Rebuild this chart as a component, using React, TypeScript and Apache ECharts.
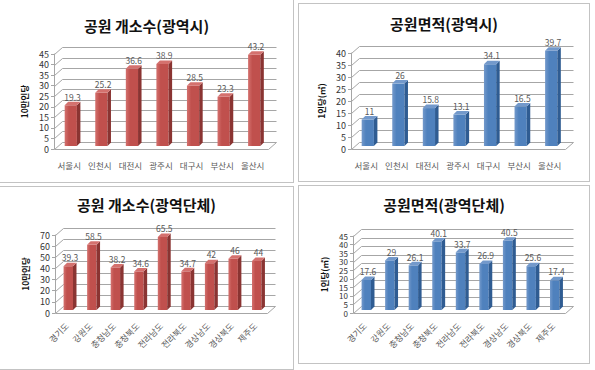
import React, { useEffect, useRef } from 'react';
import * as echarts from 'echarts';

// Categories
const cityCats = ['서울시', '인천시', '대전시', '광주시', '대구시', '부산시', '울산시'];
const provCats = ['경기도', '강원도', '충청남도', '충청북도', '전라남도', '전라북도', '경상남도', '경상북도', '제주도'];

// Series values
const cityParkCount = [19.3, 25.2, 36.6, 38.9, 28.5, 23.3, 43.2];
const cityParkArea = [11, 26, 15.8, 13.1, 34.1, 16.5, 39.7];
const provParkCount = [39.3, 58.5, 38.2, 34.6, 65.5, 34.7, 42, 46, 44];
const provParkArea = [17.6, 29, 26.1, 40.1, 33.7, 26.9, 40.5, 25.6, 17.4];

// Value-axis ticks
const cityCountTicks = [0, 5, 10, 15, 20, 25, 30, 35, 40, 45];
const cityAreaTicks = [0, 5, 10, 15, 20, 25, 30, 35, 40];
const provCountTicks = [0, 10, 20, 30, 40, 50, 60, 70];
const provAreaTicks = [0, 5, 10, 15, 20, 25, 30, 35, 40, 45];

const FONT = "'Noto Sans CJK KR', 'Noto Sans', sans-serif";
const GRID_LINE = '#a6a6a6';
const DEPTH_X = 8;
const DEPTH_Y = -7;
const BAR_SHIFT_X = 1.5;
const BAR_SHIFT_Y = -3;
const BAR_DEPTH = 3.5;

const RED = { front: '#C0504D', side: '#8A3432', top: '#D4716E' };
const BLUE = { front: '#4F81BD', side: '#2F5C92', top: '#7399CB' };

type Palette = typeof RED;

interface PanelSpec {
  title: string;
  axisName: string;
  cats: string[];
  values: number[];
  ticks: number[];
  palette: Palette;
  rotateLabels: boolean;
  tickFont: number;
  grid: { left: number; top: number; width: number; height: number };
  titleTop: number;
  box: { left: number; top: number; width: number; height: number };
}

function buildOption(p: PanelSpec): echarts.EChartsCoreOption {
  const max = p.ticks[p.ticks.length - 1];
  const step = p.ticks[1] - p.ticks[0];
  const line = (x1: number, y1: number, x2: number, y2: number) => ({
    type: 'line',
    shape: { x1, y1, x2, y2 },
    style: { stroke: GRID_LINE, lineWidth: 1 },
    silent: true,
  });
  return {
    animation: false,
    textStyle: { fontFamily: FONT },
    title: {
      text: p.title,
      left: 'center',
      top: p.titleTop,
      textStyle: { fontFamily: FONT, fontSize: 15, fontWeight: 'bold', color: '#111' },
    },
    grid: { ...p.grid, containLabel: false },
    xAxis: {
      type: 'category',
      data: p.cats,
      axisLine: { show: false },
      axisTick: { show: false },
      splitLine: { show: false },
      axisLabel: {
        color: '#595959',
        fontSize: 8.5,
        lineHeight: 9,
        fontFamily: FONT,
        interval: 0,
        rotate: p.rotateLabels ? 45 : 0,
        margin: 11,
      },
    },
    yAxis: {
      type: 'value',
      min: 0,
      max,
      interval: step,
      name: p.axisName,
      nameLocation: 'middle',
      nameRotate: 90,
      nameGap: 25,
      nameTextStyle: { fontFamily: FONT, fontSize: 8.5, fontWeight: 'bold', color: '#111' },
      axisLine: { show: true, lineStyle: { color: GRID_LINE } },
      axisTick: { show: true, length: 3, lineStyle: { color: GRID_LINE } },
      splitLine: { show: false },
      axisLabel: {
        color: '#333',
        fontSize: p.tickFont,
        lineHeight: p.tickFont,
        fontFamily: FONT,
        margin: 5,
      },
    },
    series: [
      {
        // Side wall, back wall and floor of the 3-D plot box
        type: 'custom',
        z: 1,
        silent: true,
        data: p.ticks.map((t) => [0, t]),
        encode: { x: 0, y: 1 },
        renderItem: (params: any, api: any) => {
          const cs = params.coordSys;
          const v = api.value(1);
          const y = Math.round(api.coord([0, v])[1]) + 0.5;
          const x0 = Math.round(cs.x) + 0.5;
          const x1 = Math.round(cs.x + cs.width) + 0.5;
          const children: any[] = [
            line(x0, y, x0 + DEPTH_X, y + DEPTH_Y),
            line(x0 + DEPTH_X, y + DEPTH_Y, x1 + DEPTH_X, y + DEPTH_Y),
          ];
          if (v === 0) {
            children.push(line(x0, y, x1, y));
            children.push(line(x1, y, x1 + DEPTH_X, y + DEPTH_Y));
          }
          return { type: 'group', children };
        },
      },
      {
        // 3-D columns with value labels
        type: 'custom',
        z: 3,
        data: p.values.map((v, i) => [i, v]),
        encode: { x: 0, y: 1 },
        renderItem: (params: any, api: any) => {
          const i = api.value(0);
          const v = api.value(1);
          const base = api.coord([i, 0]);
          const top = api.coord([i, v]);
          const band = api.size([1, 0])[0];
          const w = band * 0.4;
          const d = BAR_DEPTH;
          const x = base[0] - w / 2 + BAR_SHIFT_X;
          const yb = base[1] + BAR_SHIFT_Y;
          const yt = top[1] + BAR_SHIFT_Y;
          return {
            type: 'group',
            children: [
              {
                type: 'rect',
                shape: { x, y: yt, width: w, height: yb - yt },
                style: {
                  fill: new echarts.graphic.LinearGradient(0, 0, 1, 0, [
                    { offset: 0, color: p.palette.top },
                    { offset: 0.35, color: p.palette.front },
                    { offset: 1, color: p.palette.front },
                  ]),
                },
              },
              {
                type: 'polygon',
                shape: { points: [[x + w, yt], [x + w + d, yt - d], [x + w + d, yb - d], [x + w, yb]] },
                style: { fill: p.palette.side },
              },
              {
                type: 'polygon',
                shape: { points: [[x, yt], [x + d, yt - d], [x + w + d, yt - d], [x + w, yt]] },
                style: { fill: p.palette.top },
              },
              {
                type: 'text',
                x: x + w / 2 + d / 2,
                y: yt - d - 1,
                style: {
                  text: String(v),
                  align: 'center',
                  verticalAlign: 'bottom',
                  textAlign: 'center',
                  textVerticalAlign: 'bottom',
                  fill: '#595959',
                  fontSize: 8.5,
                  fontFamily: FONT,
                },
              },
            ],
          };
        },
      },
    ],
  };
}

const panels: PanelSpec[] = [
  {
    title: '공원 개소수(광역시)',
    axisName: '10만인당',
    cats: cityCats,
    values: cityParkCount,
    ticks: cityCountTicks,
    palette: RED,
    rotateLabels: false,
    tickFont: 9,
    grid: { left: 54, top: 54, width: 214, height: 95 },
    titleTop: 13,
    box: { left: -1, top: -1, width: 295, height: 184 },
  },
  {
    title: '공원면적(광역시)',
    axisName: '1인당(㎡)',
    cats: cityCats,
    values: cityParkArea,
    ticks: cityAreaTicks,
    palette: BLUE,
    rotateLabels: false,
    tickFont: 9,
    grid: { left: 52, top: 49, width: 214, height: 96 },
    titleTop: 7,
    box: { left: 298, top: 3, width: 292, height: 179 },
  },
  {
    title: '공원 개소수(광역단체)',
    axisName: '10만인당',
    cats: provCats,
    values: provParkCount,
    ticks: provCountTicks,
    palette: RED,
    rotateLabels: true,
    tickFont: 9,
    grid: { left: 55, top: 48, width: 212, height: 78 },
    titleTop: 5,
    box: { left: -1, top: 186, width: 295, height: 184 },
  },
  {
    title: '공원면적(광역단체)',
    axisName: '1인당(㎡)',
    cats: provCats,
    values: provParkArea,
    ticks: provAreaTicks,
    palette: BLUE,
    rotateLabels: true,
    tickFont: 8,
    grid: { left: 54, top: 50, width: 212, height: 77 },
    titleTop: 6,
    box: { left: 298, top: 185, width: 292, height: 179 },
  },
];

function ChartPanel({ spec }: { spec: PanelSpec }) {
  const ref = useRef<HTMLDivElement>(null);
  useEffect(() => {
    if (!ref.current) return;
    const chart = echarts.init(ref.current, undefined, { renderer: 'svg' });
    chart.setOption(buildOption(spec));
    return () => chart.dispose();
  }, [spec]);
  const { left, top, width, height } = spec.box;
  return (
    <div
      style={{
        position: 'absolute',
        left,
        top,
        width,
        height,
        boxSizing: 'border-box',
        border: '1px solid #c3c3c3',
        background: '#fff',
      }}
    >
      <div ref={ref} style={{ width: width - 2, height: height - 2 }} />
    </div>
  );
}

export default function App() {
  return (
    <div
      style={{
        position: 'fixed',
        left: 0,
        top: 0,
        width: 595,
        height: 370,
        overflow: 'hidden',
        background: '#fff',
      }}
    >
      {panels.map((p) => (
        <ChartPanel key={p.title} spec={p} />
      ))}
    </div>
  );
}
